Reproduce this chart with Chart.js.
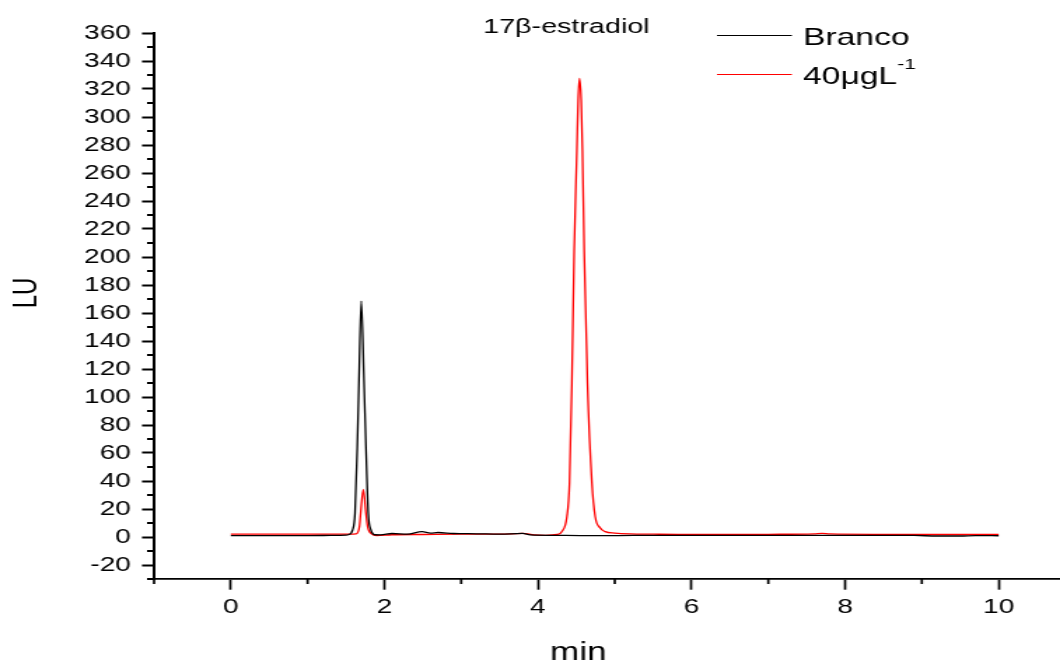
<!DOCTYPE html>
<html>
<head>
<meta charset="utf-8">
<title>17β-estradiol</title>
<script src="https://cdn.jsdelivr.net/npm/chart.js@4.4.1/dist/chart.umd.min.js"></script>
<style>
  html, body { margin: 0; padding: 0; background: #fff; overflow: hidden; }
  /* o original é esticado na horizontal, por isso o canvas é escalado */
  #grafico { display: block; transform: scaleX(1.4003); transform-origin: 0 0; }
</style>
</head>
<body>
<canvas id="grafico" width="757" height="664"></canvas>
<script>
const tempoBranco = [0, 0.5, 1.0, 1.3, 1.5, 1.53, 1.586, 1.617, 1.647, 1.669, 1.699, 1.734, 1.76, 1.79, 1.825, 1.877, 1.95, 2.1, 2.3, 2.49, 2.6, 2.7, 2.9, 3.2, 3.5, 3.8, 3.9, 4.2, 4.6, 5.0, 5.5, 6.0, 7.0, 8.0, 8.9, 9.2, 9.5, 9.7, 10.0];
const sinalBranco = [1, 1, 1, 1.1, 1.3, 1.6, 5, 17, 64.5, 112, 168.5, 112, 64.5, 17, 5, 1.6, 1.5, 2.5, 2, 3.8, 2.8, 3.2, 2.5, 2.3, 2, 2.6, 1.5, 1.2, 1.0, 1.0, 1.2, 1.1, 1.2, 1.2, 1.1, 0.7, 0.7, 1.0, 0.9];

const tempo40 = [0, 0.5, 1.0, 1.3, 1.55, 1.63, 1.675, 1.691, 1.725, 1.76, 1.782, 1.834, 1.9, 2.1, 2.5, 3.0, 3.5, 3.8, 3.95, 4.1, 4.25, 4.31, 4.377, 4.411, 4.442, 4.472, 4.507, 4.524, 4.541, 4.563, 4.58, 4.602, 4.645, 4.703, 4.746, 4.81, 4.876, 5.0, 5.2, 5.5, 6.0, 6.5, 7.0, 7.6, 7.7, 7.8, 8.5, 9.0, 9.5, 10.0];
const sinal40 = [2, 2, 2, 2, 2, 2.2, 7.4, 17, 34, 17, 7.4, 2.2, 1.0, 1.6, 1.8, 2, 2, 2.6, 1.5, 1.2, 1.8, 3.8, 14.5, 38.5, 110, 205, 276, 312, 327.5, 312, 276, 205, 110, 38.5, 14.5, 6.5, 3.8, 2.8, 2.2, 2, 1.8, 1.8, 1.9, 2.3, 2.6, 2.2, 1.9, 1.8, 1.8, 1.8];

// Marcas dos eixos
const ticksX = [0, 2, 4, 6, 8, 10];
const ticksXMenor = [-1, 1, 3, 5, 7, 9];
const ticksY = [-20, 0, 20, 40, 60, 80, 100, 120, 140, 160, 180, 200, 220, 240, 260, 280, 300, 320, 340, 360];
const ticksYMenor = [-30, -10, 10, 30, 50, 70, 90, 110, 130, 150, 170, 190, 210, 230, 250, 270, 290, 310, 330, 350];

// Textos
const titulo = '17β-estradiol';
const tituloX = 'min';
const tituloY = 'LU';
const nomes = ['Branco', '40μgL'];
const expoente = ['', '-1'];
const cores = ['#000000', '#ff0000'];

const fonte = '"Liberation Sans", Arial, Helvetica, sans-serif';

// Função para juntar tempo e sinal em pontos
function pontos(tempos, sinais) {
    return tempos.map((t, i) => ({ x: t, y: sinais[i] }));
}

// Plugin para marcas menores, título, rótulos e legenda
const extras = {
    id: 'extras',
    afterDraw(chart) {
        const ctx = chart.ctx;
        const sx = chart.scales.x;
        const sy = chart.scales.y;
        ctx.save();
        ctx.strokeStyle = '#000';

        // marcas menores do eixo Y
        ctx.lineWidth = 2;
        ticksYMenor.forEach(v => {
            const p = sy.getPixelForValue(v);
            ctx.beginPath();
            ctx.moveTo(sy.right - 5, p);
            ctx.lineTo(sy.right, p);
            ctx.stroke();
        });

        // marcas menores do eixo X
        ctx.lineWidth = 1.7;
        ticksXMenor.forEach(v => {
            const p = sx.getPixelForValue(v);
            ctx.beginPath();
            ctx.moveTo(p, sx.top);
            ctx.lineTo(p, sx.top + 5);
            ctx.stroke();
        });

        ctx.fillStyle = '#000';
        ctx.textBaseline = 'alphabetic';

        // título
        ctx.font = '20.5px ' + fonte;
        ctx.textAlign = 'left';
        ctx.fillText(titulo, 345, 33);

        // rótulo do eixo X
        ctx.font = '25px ' + fonte;
        ctx.textAlign = 'center';
        ctx.fillText(tituloX, 413, 660);

        // rótulo do eixo Y
        ctx.save();
        ctx.translate(26, 293);
        ctx.rotate(-Math.PI / 2);
        ctx.font = '24px ' + fonte;
        ctx.textAlign = 'center';
        ctx.fillText(tituloY, 0, 0);
        ctx.restore();

        // legenda
        const linhasY = [35.5, 74.5];
        const textosY = [45, 84];
        nomes.forEach((nome, i) => {
            ctx.strokeStyle = cores[i];
            ctx.lineWidth = 1.2;
            ctx.beginPath();
            ctx.moveTo(512, linhasY[i]);
            ctx.lineTo(565.5, linhasY[i]);
            ctx.stroke();
            ctx.font = '24px ' + fonte;
            ctx.textAlign = 'left';
            ctx.fillText(nome, 573.5, textosY[i]);
            if (expoente[i]) {
                const w = ctx.measureText(nome).width;
                ctx.font = '15px ' + fonte;
                ctx.fillText(expoente[i], 573.5 + w, textosY[i] - 15);
            }
        });
        ctx.restore();
    }
};

const ctx = document.getElementById('grafico').getContext('2d');
const chart = new Chart(ctx, {
    type: 'scatter',
    data: {
        datasets: [
            {
                label: nomes[0],
                data: pontos(tempoBranco, sinalBranco),
                showLine: true,
                borderColor: cores[0],
                borderWidth: 1.3,
                pointRadius: 0,
                cubicInterpolationMode: 'monotone'
            },
            {
                label: nomes[1],
                data: pontos(tempo40, sinal40),
                showLine: true,
                borderColor: cores[1],
                borderWidth: 1.3,
                pointRadius: 0,
                cubicInterpolationMode: 'monotone'
            }
        ]
    },
    options: {
        responsive: false,
        animation: false,
        devicePixelRatio: 1,
        layout: { padding: { top: 33, left: 0, right: 0, bottom: 0 } },
        plugins: {
            legend: { display: false },
            title: { display: false },
            tooltip: { enabled: false }
        },
        scales: {
            x: {
                type: 'linear',
                min: -1,
                max: 10.8,
                afterBuildTicks: s => { s.ticks = ticksX.map(v => ({ value: v })); },
                afterFit: s => { s.height = 85; },
                grid: { drawOnChartArea: false, tickLength: 10.7, tickColor: '#000', tickWidth: 1.7 },
                border: { display: true, color: '#000', width: 1.8 },
                ticks: { color: '#000', font: { family: fonte, size: 20 }, padding: 6, maxRotation: 0, autoSkip: false }
            },
            y: {
                type: 'linear',
                min: -30,
                max: 360,
                afterBuildTicks: s => { s.ticks = ticksY.map(v => ({ value: v })); },
                afterFit: s => { s.width = 110; },
                grid: { drawOnChartArea: false, tickLength: 8.6, tickColor: '#000', tickWidth: 2 },
                border: { display: true, color: '#000', width: 2 },
                ticks: { color: '#000', font: { family: fonte, size: 20 }, padding: 8, autoSkip: false }
            }
        }
    },
    plugins: [extras]
});
</script>
</body>
</html>
